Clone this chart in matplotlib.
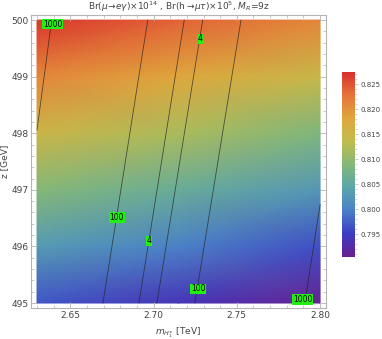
import numpy as np
import matplotlib
matplotlib.use('Agg')
import matplotlib.pyplot as plt
from matplotlib.colors import LinearSegmentedColormap
from matplotlib.ticker import MultipleLocator

# field values (colour scale)
m_grid = [2.63, 2.715, 2.80]
z_grid = [495, 496, 497, 498, 499, 500]
field = [
    [0.7970, 0.7940, 0.7910],
    [0.8030, 0.8000, 0.7965],
    [0.8090, 0.8060, 0.8025],
    [0.8150, 0.8120, 0.8085],
    [0.8210, 0.8180, 0.8145],
    [0.8270, 0.8240, 0.8210],
]
vmin, vmax = 0.7905, 0.8275

# contour lines: (level, m at one end, z at one end, m at other end, z at other end)
contour_lines = [
    (1000, 2.6388, 500.0, 2.6300, 498.06),
    (100, 2.6965, 500.0, 2.6696, 495.0),
    (4, 2.7184, 500.0, 2.6912, 495.0),
    (4, 2.7295, 500.0, 2.7020, 495.0),
    (100, 2.7525, 500.0, 2.7248, 495.0),
    (1000, 2.8000, 496.74, 2.7908, 495.0),
]
# contour labels: text, m, z
contour_labels = [
    ("1000", 2.6394, 499.93),
    ("4", 2.7280, 499.67),
    ("100", 2.6779, 496.51),
    ("4", 2.6972, 496.10),
    ("100", 2.7268, 495.25),
    ("1000", 2.7895, 495.06),
]

rainbow = LinearSegmentedColormap.from_list('mma_rainbow', [
    '#6a1f8e', '#3c3cc4', '#4a80c8', '#5aa6aa', '#84b878',
    '#c0bc4c', '#e0a63c', '#e6743a', '#d8302c'])

fig = plt.figure(figsize=(3.82, 3.39), dpi=100)
ax = fig.add_axes([0.0812, 0.0914, 0.772, 0.864])
frame_col = '#b4b4b4'
text_col = '#444444'

mesh = ax.pcolormesh(m_grid, z_grid, np.array(field), shading='gouraud',
                     cmap=rainbow, vmin=vmin, vmax=vmax, zorder=1)

for lev, m1, z1, m2, z2 in contour_lines:
    ax.plot([m1, m2], [z1, z2], color='#222222', lw=0.6, alpha=0.7, zorder=2)

for txt, m, z in contour_labels:
    ax.text(m, z, txt, fontsize=5.5, ha='center', va='center', zorder=3,
            bbox=dict(boxstyle='square,pad=0.1', fc='#22ee11', ec='none'))

ax.set_xlim(2.6264, 2.8035)
ax.set_ylim(494.912, 500.088)
ax.set_xticks([2.65, 2.70, 2.75, 2.80])
ax.set_xticklabels(['2.65', '2.70', '2.75', '2.80'])
ax.set_yticks([495, 496, 497, 498, 499, 500])
ax.xaxis.set_minor_locator(MultipleLocator(0.01))
ax.yaxis.set_minor_locator(MultipleLocator(0.2))
ax.tick_params(which='both', direction='in', top=True, right=True,
               color=frame_col, labelsize=6.5, labelcolor=text_col, pad=2)
ax.tick_params(which='major', length=4, width=0.6)
ax.tick_params(which='minor', length=2, width=0.5)
for sp in ax.spines.values():
    sp.set_color(frame_col)
    sp.set_linewidth(0.8)

ax.set_xlabel(r'$m_{H_1^{\pm}}$ [TeV]', fontsize=6.5, color=text_col, labelpad=4)
ax.set_ylabel('z [GeV]', fontsize=6.5, color=text_col, labelpad=1)
ax.set_title(r'Br($\mu\!\to\!e\gamma$)$\times10^{14}$ , Br(h$\to\!\mu\tau$)$\times10^{5}$, $M_R$=9z',
             fontsize=6.5, color=text_col, pad=4)

cax = fig.add_axes([0.896, 0.242, 0.034, 0.546])
cb = fig.colorbar(mesh, cax=cax)
cb.outline.set_visible(False)
cb.set_ticks([0.795, 0.800, 0.805, 0.810, 0.815, 0.820, 0.825])
cb.ax.yaxis.set_minor_locator(MultipleLocator(0.001))
cb.ax.tick_params(which='both', direction='out', color=frame_col,
                  labelsize=5, labelcolor=text_col, pad=1.5)
cb.ax.tick_params(which='major', length=2.5, width=0.5)
cb.ax.tick_params(which='minor', length=1.2, width=0.4)

fig.savefig('out.png', dpi=100)
